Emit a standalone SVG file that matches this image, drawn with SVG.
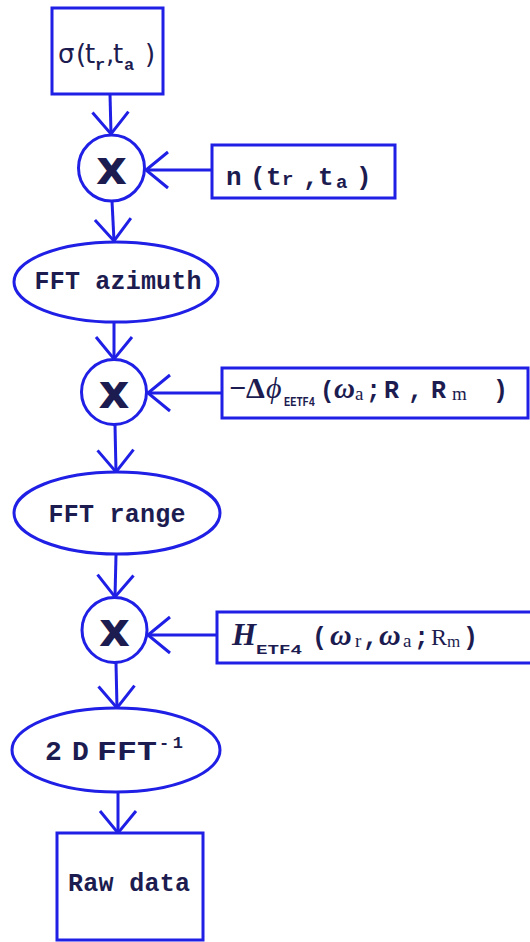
<svg xmlns="http://www.w3.org/2000/svg" width="530" height="942" viewBox="0 0 530 942">
<style>
.s{fill:none;stroke:#1f1fe6;stroke-width:3}
.w{fill:#fff;stroke:#1f1fe6;stroke-width:3}
.m{font-family:"Liberation Mono","Courier New",monospace;font-weight:bold;fill:#1c1c50}
.x{font-family:"DejaVu Sans",sans-serif;font-weight:900;fill:#1c1c50;font-size:48px}
.r{font-family:"Liberation Serif","Times New Roman",serif;fill:#1c1c50}
.d{font-family:"DejaVu Sans",sans-serif;fill:#1c1c50}
.b{font-weight:bold}
.i{font-style:italic}
</style>
<defs>
<marker id="ah" viewBox="-26 -22 30 44" refX="0" refY="0" markerWidth="30" markerHeight="44" markerUnits="userSpaceOnUse" orient="auto">
<path d="M-22,-18 L0,0 L-22,18" fill="none" stroke="#1f1fe6" stroke-width="3"/>
</marker>
</defs>
<rect width="530" height="942" fill="#fff"/>
<g id="connectors" class="s" marker-end="url(#ah)">
<line x1="110" y1="94" x2="111" y2="134"/>
<line x1="212" y1="170" x2="146" y2="170"/>
<line x1="112" y1="201" x2="114" y2="241"/>
<line x1="114" y1="322" x2="114" y2="359"/>
<line x1="222" y1="393" x2="148" y2="393"/>
<line x1="115" y1="425" x2="116" y2="472"/>
<line x1="116" y1="555" x2="115" y2="597"/>
<line x1="217" y1="635" x2="148" y2="635"/>
<line x1="116" y1="663" x2="117" y2="708"/>
<line x1="118" y1="792" x2="118" y2="833"/>
</g>
<g id="sigma">
<rect class="w" x="52" y="8" width="111" height="86"/>
<text class="d" y="63" font-size="26"><tspan x="58">σ</tspan><tspan x="76">(</tspan><tspan x="85">t</tspan><tspan x="106">,</tspan><tspan x="113">t</tspan><tspan x="145">)</tspan></text>
<text class="m" font-size="17" y="70"><tspan x="95">r</tspan><tspan x="124">a</tspan></text>
</g>
<g id="mult1">
<circle class="w" cx="111.5" cy="168" r="33"/>
<text class="x" x="111.5" y="184" text-anchor="middle">x</text>
</g>
<g id="noise">
<rect class="w" x="212" y="145" width="183" height="53"/>
<text class="m" y="185" font-size="26"><tspan x="226">n</tspan><tspan x="250">(</tspan><tspan x="266">t</tspan><tspan x="303">,</tspan><tspan x="318">t</tspan><tspan x="356">)</tspan></text>
<text class="m" font-size="19"><tspan x="282" y="185">r</tspan><tspan x="336" y="188">a</tspan></text>
</g>
<g id="fftaz">
<ellipse class="w" cx="116" cy="282" rx="102" ry="40"/>
<text class="m" x="118" y="289" font-size="25" text-anchor="middle" textLength="167">FFT azimuth</text>
</g>
<g id="mult2">
<circle class="w" cx="114" cy="392" r="32.5"/>
<text class="x" x="114" y="408" text-anchor="middle">x</text>
</g>
<g id="phase">
<rect class="w" x="222" y="368" width="306" height="50"/>
<text class="r b" y="398" font-size="30"><tspan x="229">−</tspan><tspan x="246">Δ</tspan></text>
<text class="r i" y="398" font-size="30"><tspan x="266">ϕ</tspan></text>
<text class="m" x="284" y="406" font-size="12" textLength="31" lengthAdjust="spacingAndGlyphs">EETF4</text>
<text class="m" x="320" y="398" font-size="24">(</text>
<text class="m" y="398" font-size="25"><tspan x="366">;</tspan><tspan x="384">R</tspan><tspan x="408">,</tspan><tspan x="431">R</tspan><tspan x="493">)</tspan></text>
<text class="r b i" x="334" y="398" font-size="29">ω</text>
<text class="r" font-size="19" y="400"><tspan x="355">a</tspan><tspan x="452">m</tspan></text>
</g>
<g id="fftrange">
<ellipse class="w" cx="117" cy="513" rx="103" ry="41"/>
<text class="m" x="117" y="522" font-size="25" text-anchor="middle" textLength="137">FFT range</text>
</g>
<g id="mult3">
<circle class="w" cx="114.5" cy="630" r="32.5"/>
<text class="x" x="114.5" y="646" text-anchor="middle">x</text>
</g>
<g id="filter">
<rect class="w" x="217" y="612" width="330" height="51"/>
<text class="r b i" x="232" y="645" font-size="31">H</text>
<text class="m" x="256" y="654" font-size="13" textLength="46" lengthAdjust="spacingAndGlyphs">ETF4</text>
<text class="m" y="645" font-size="25"><tspan x="312">(</tspan><tspan x="363">,</tspan><tspan x="414">;</tspan><tspan x="463">)</tspan></text>
<text class="r b i" y="645" font-size="30"><tspan x="330">ω</tspan><tspan x="379">ω</tspan></text>
<text class="r" font-size="19" y="647"><tspan x="355">r</tspan><tspan x="403">a</tspan></text>
<text class="r" x="431" y="645" font-size="24">R</text>
<text class="r" x="447" y="647" font-size="17">m</text>
</g>
<g id="ifft">
<ellipse class="w" cx="116" cy="750" rx="104" ry="42"/>
<text class="m" y="760" font-size="28"><tspan x="45">2</tspan><tspan x="72">D</tspan></text>
<text class="m" x="97" y="760" font-size="28" textLength="60" lengthAdjust="spacingAndGlyphs">FFT</text>
<text class="m" x="159" y="748" font-size="17" textLength="24">-1</text>
</g>
<g id="raw">
<rect class="w" x="57" y="833" width="146" height="107"/>
<text class="m" x="129" y="891" font-size="25" text-anchor="middle" textLength="122">Raw data</text>
</g>
</svg>
